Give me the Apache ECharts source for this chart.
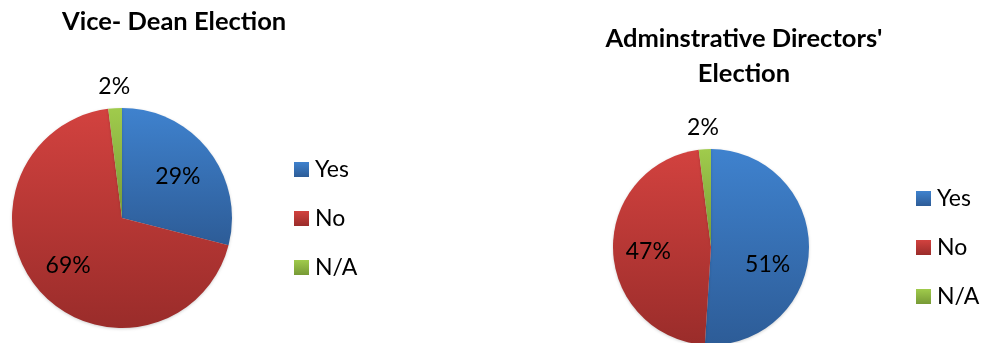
<!DOCTYPE html>
<html>
<head>
<meta charset="utf-8">
<script src="https://cdn.jsdelivr.net/npm/echarts@6/dist/echarts.min.js"></script>
<style>html,body{margin:0;padding:0;background:#fff}#c{width:982px;height:343px}</style>
</head>
<body>
<div id="c"></div>
<script>
const categories = ['Yes', 'No', 'N/A'];
const viceDeanValues = [29, 69, 2];
const adminValues = [51, 47, 2];
const chartTitles = ['Vice- Dean Election', "Adminstrative Directors'\nElection"];

const gradients = [
  ['#3F82CE', '#2D5C97'],
  ['#D2423F', '#9A2C2A'],
  ['#A0CB4C', '#779A36']
];
function grad(i) {
  return new echarts.graphic.LinearGradient(0, 0, 0, 1, [
    { offset: 0, color: gradients[i][0] },
    { offset: 1, color: gradients[i][1] }
  ]);
}
function mainData(values) {
  return categories.map((n, i) => ({ name: n, value: values[i], itemStyle: { color: grad(i) } }));
}
function labelData(values) {
  return categories.map((n, i) => ({
    name: n, value: values[i],
    label: i === 2 ? { position: 'outside' } : { position: 'inside' }
  }));
}
const font = 'Lato, Carlito, "Open Sans", sans-serif';
const pies = [
  { center: [122, 218], r: 110, values: viceDeanValues, shift: [[-3, 4], [2, -2], [5, -8]] },
  { center: [711, 247], r: 98, values: adminValues, shift: [[-10, 15], [4, 2], [4, -8]] }
];
const series = [];
pies.forEach(p => {
  series.push({
    type: 'pie', center: p.center, radius: [0, p.r], startAngle: 90, clockwise: true,
    data: mainData(p.values), label: { show: false }, labelLine: { show: false },
    itemStyle: { borderWidth: 0, shadowBlur: 3, shadowColor: 'rgba(0,0,0,0.18)', shadowOffsetY: 1 },
    silent: true, animation: false
  });
});
pies.forEach(p => {
  series.push({
    type: 'pie', center: p.center, radius: [p.r * 0.3, p.r], startAngle: 90, clockwise: true,
    data: labelData(p.values),
    itemStyle: { color: 'rgba(0,0,0,0)', borderWidth: 0 },
    label: { show: true, formatter: '{c}%', fontFamily: font, fontSize: 23, color: '#000' },
    labelLine: { show: false, length: 14, length2: 0 },
    labelLayout: function (params) {
      const s = p.shift[params.dataIndex];
      const o = { dx: s[0], dy: s[1] };
      if (params.dataIndex === 2) o.align = 'center';
      return o;
    },
    silent: true, animation: false, legendHoverLink: false
  });
});
const legendBase = {
  orient: 'vertical', icon: 'rect', itemWidth: 15, itemHeight: 15, itemGap: 26, padding: 0,
  data: categories, selectedMode: false, itemStyle: { borderWidth: 0 },
  textStyle: { fontFamily: font, fontSize: 23, color: '#000', padding: [0, 0, 0, 1] }
};
const option = {
  backgroundColor: '#fff',
  animation: false,
  title: [
    { text: chartTitles[0], left: 62, top: 9, padding: 0, textStyle: { fontFamily: font, fontWeight: 'bold', fontSize: 25.5, color: '#000' } },
    { text: chartTitles[1], left: 744, top: 21, padding: 0, textAlign: 'center', textStyle: { fontFamily: font, fontWeight: 'bold', fontSize: 25.5, lineHeight: 35, color: '#000' } }
  ],
  legend: [
    Object.assign({}, legendBase, { left: 294, top: 158 }),
    Object.assign({}, legendBase, { left: 916, top: 187 })
  ],
  series: series
};
const chart = echarts.init(document.getElementById('c'), null, { renderer: 'canvas' });
chart.setOption(option);
</script>
</body>
</html>
